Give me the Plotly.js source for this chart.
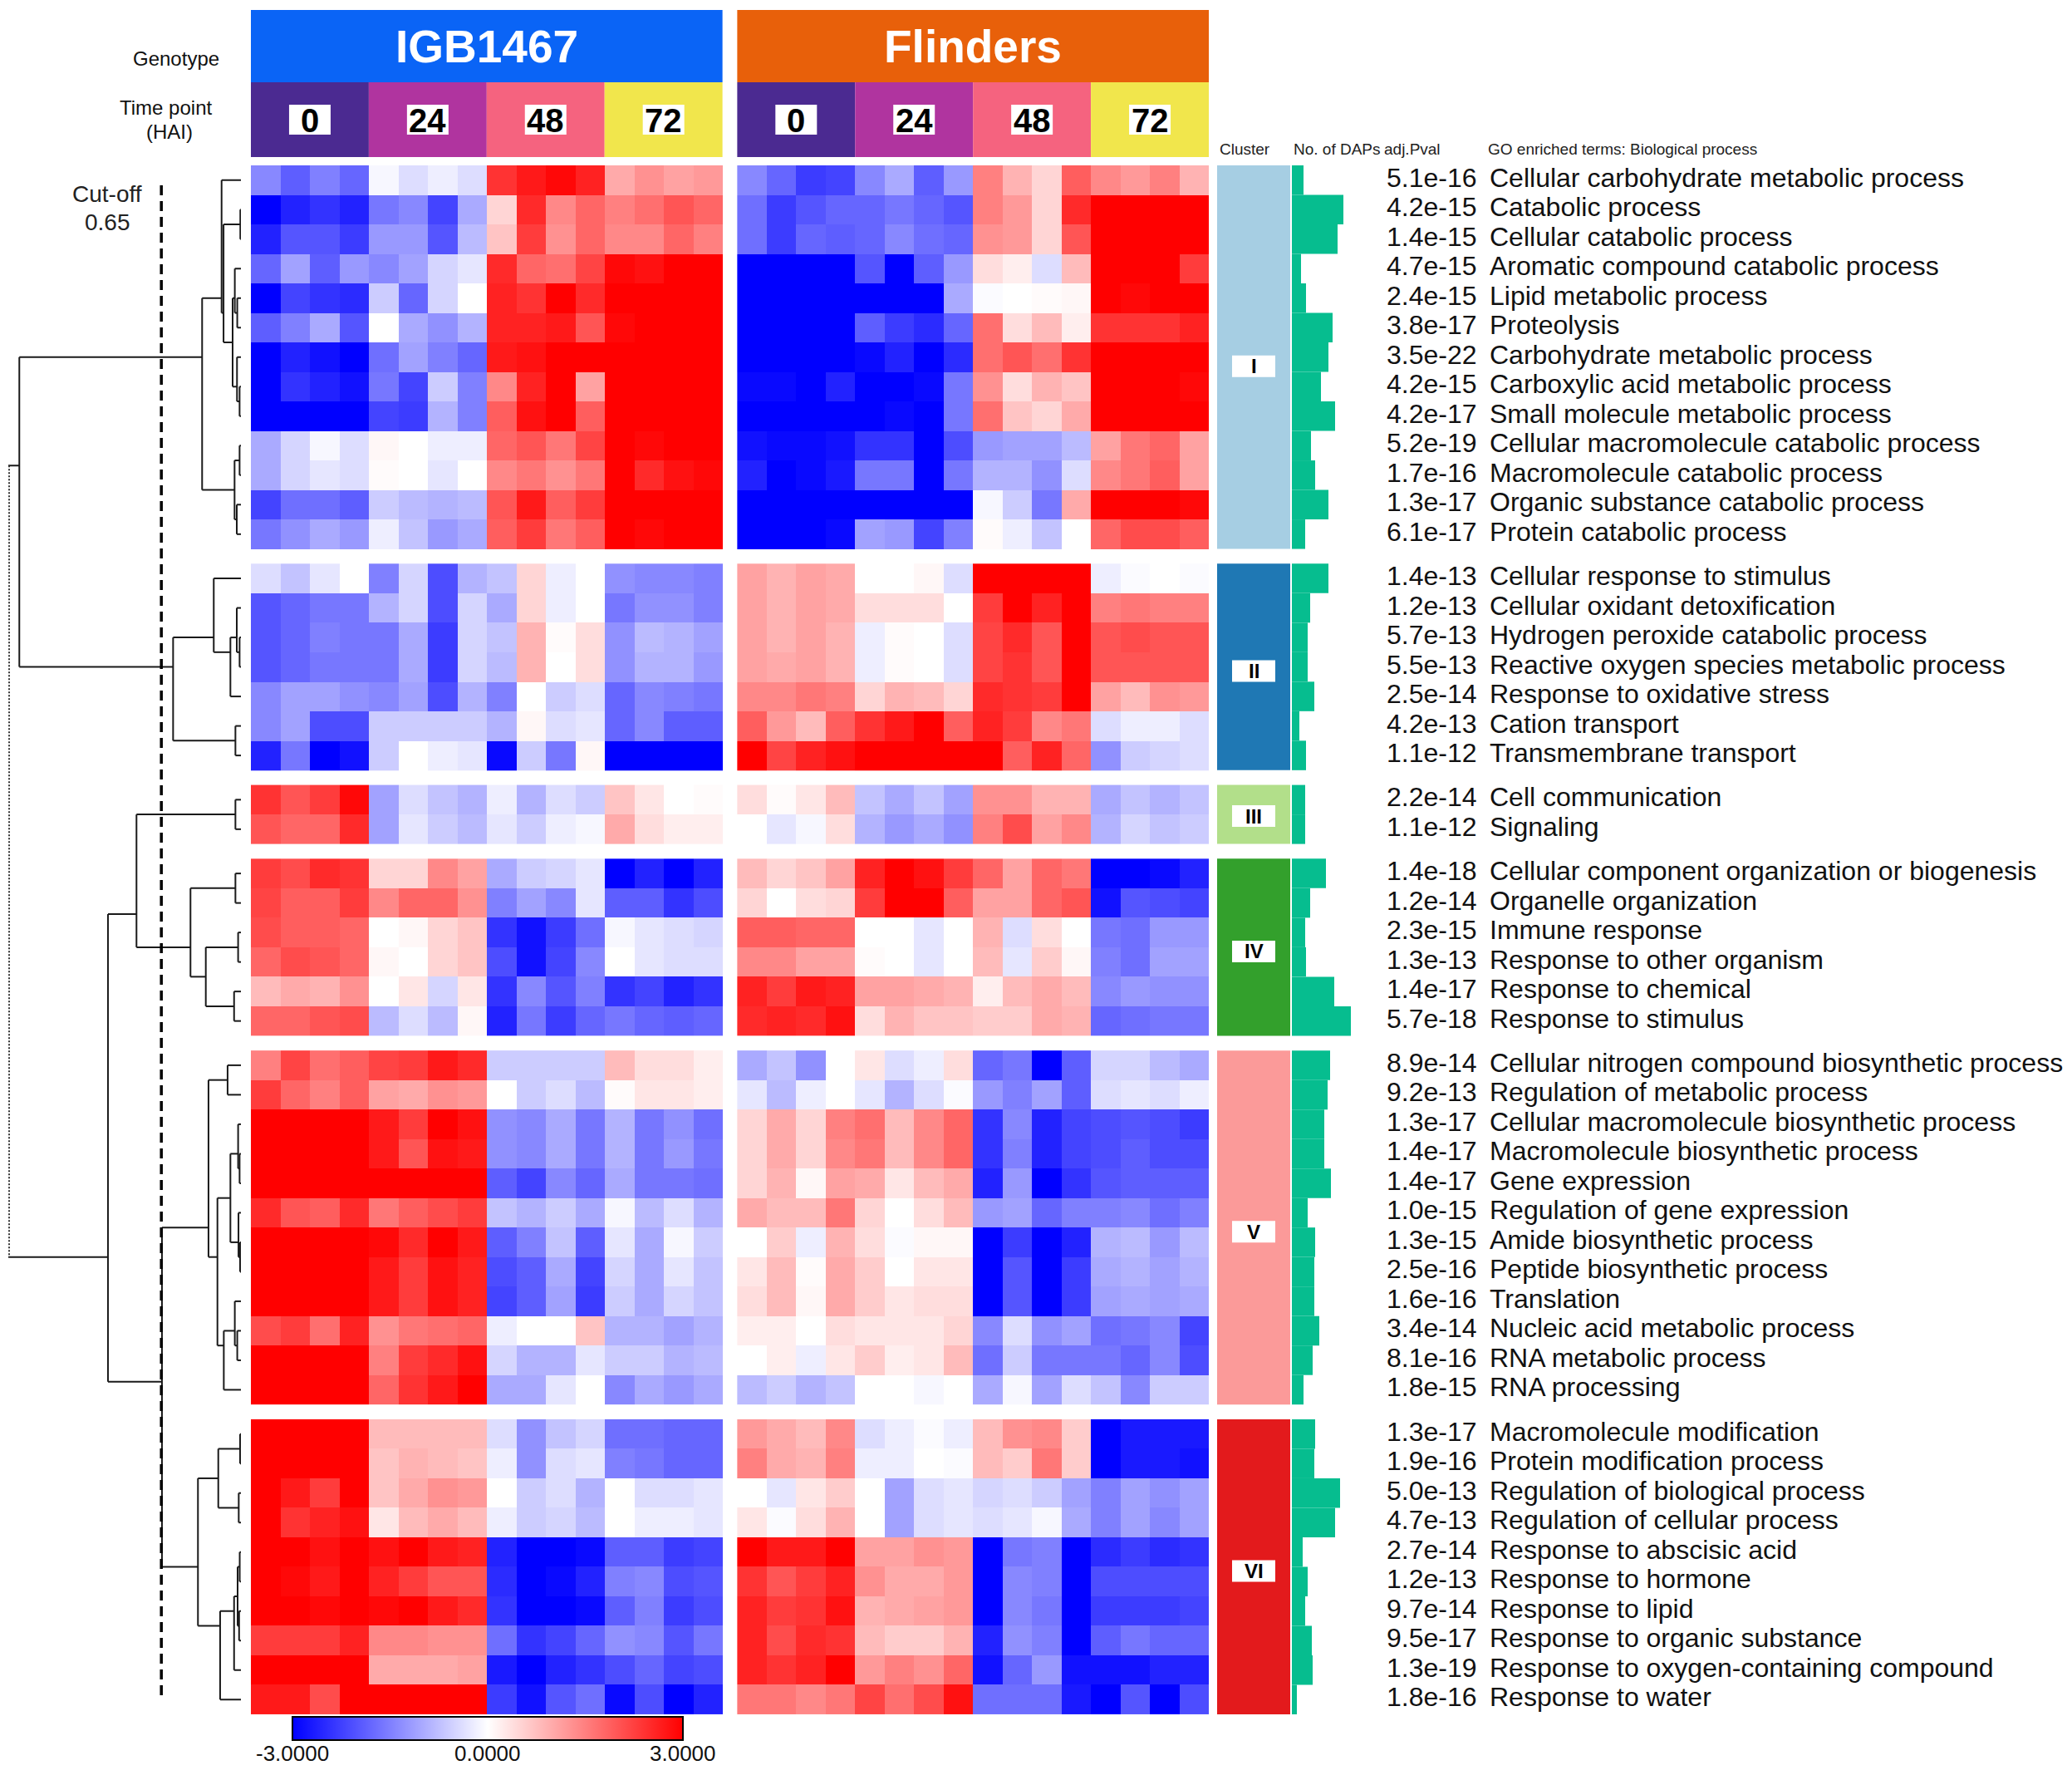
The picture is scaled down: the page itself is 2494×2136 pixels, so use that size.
<!DOCTYPE html>
<html><head><meta charset="utf-8">
<script src="https://cdn.plot.ly/plotly-3.0.1.min.js"></script>
<style>html,body{margin:0;padding:0;background:#fff;}</style>
</head><body>
<div id="chart" style="width:2494px;height:2136px;"></div>
<script>
// ---------------- DATA ----------------
const genotypes = ['IGB1467', 'Flinders'];
const timePoints = ['0', '24', '48', '72'];
const clusterNames = ['I', 'II', 'III', 'IV', 'V', 'VI'];
const clusterSizes = [13, 7, 2, 6, 12, 10];
const pvals = [
 '5.1e-16','4.2e-15','1.4e-15','4.7e-15','2.4e-15','3.8e-17','3.5e-22','4.2e-15','4.2e-17','5.2e-19','1.7e-16','1.3e-17','6.1e-17',
 '1.4e-13','1.2e-13','5.7e-13','5.5e-13','2.5e-14','4.2e-13','1.1e-12',
 '2.2e-14','1.1e-12',
 '1.4e-18','1.2e-14','2.3e-15','1.3e-13','1.4e-17','5.7e-18',
 '8.9e-14','9.2e-13','1.3e-17','1.4e-17','1.4e-17','1.0e-15','1.3e-15','2.5e-16','1.6e-16','3.4e-14','8.1e-16','1.8e-15',
 '1.3e-17','1.9e-16','5.0e-13','4.7e-13','2.7e-14','1.2e-13','9.7e-14','9.5e-17','1.3e-19','1.8e-16'
];
const goTerms = [
 'Cellular carbohydrate metabolic process','Catabolic process','Cellular catabolic process','Aromatic compound catabolic process',
 'Lipid metabolic process','Proteolysis','Carbohydrate metabolic process','Carboxylic acid metabolic process',
 'Small molecule metabolic process','Cellular macromolecule catabolic process','Macromolecule catabolic process',
 'Organic substance catabolic process','Protein catabolic process',
 'Cellular response to stimulus','Cellular oxidant detoxification','Hydrogen peroxide catabolic process',
 'Reactive oxygen species metabolic process','Response to oxidative stress','Cation transport','Transmembrane transport',
 'Cell communication','Signaling',
 'Cellular component organization or biogenesis','Organelle organization','Immune response','Response to other organism',
 'Response to chemical','Response to stimulus',
 'Cellular nitrogen compound biosynthetic process','Regulation of metabolic process','Cellular macromolecule biosynthetic process',
 'Macromolecule biosynthetic process','Gene expression','Regulation of gene expression','Amide biosynthetic process',
 'Peptide biosynthetic process','Translation','Nucleic acid metabolic process','RNA metabolic process','RNA processing',
 'Macromolecule modification','Protein modification process','Regulation of biological process','Regulation of cellular process',
 'Response to abscisic acid','Response to hormone','Response to lipid','Response to organic substance',
 'Response to oxygen-containing compound','Response to water'
];
const daps = [
 14,62,55,11,17,49,44,35,52,23,28,44,16,
 44,22,19,19,27,9,17,
 16,16,
 41,22,16,17,51,71,
 46,43,39,39,47,19,28,27,27,33,25,14,
 28,27,58,52,13,19,16,24,25,6
];
const colorbarTicks = [-3, 0, 3];
const colorbarTickText = ['-3.0000', '0.0000', '3.0000'];

const igbI = [
 [-1.4,-1.9,-1.5,-1.8, -0.1,-0.4,-0.2,-0.4, 2.4,2.7,2.9,2.6, 1.0,1.3,1.1,1.2],
 [-3.0,-2.6,-2.4,-2.6, -1.6,-1.4,-2.2,-1.0, 0.5,2.5,1.4,1.8, 1.5,1.7,2.0,1.8],
 [-2.6,-2.0,-2.0,-2.3, -1.2,-1.2,-2.0,-0.8, 0.7,2.3,1.3,1.8, 1.4,1.4,1.8,1.5],
 [-1.8,-1.1,-1.9,-1.2, -1.4,-1.1,-0.5,-0.3, 2.5,1.8,1.7,2.2, 2.9,2.8,3.0,3.0],
 [-3.0,-2.2,-2.4,-2.5, -0.6,-1.8,-0.5,0.0, 2.6,2.4,3.0,2.5, 3,3,3,3],
 [-1.9,-1.5,-1.0,-2.0, 0.0,-1.0,-1.3,-0.9, 2.6,2.6,2.7,2.0, 2.9,3,3,3],
 [-3.0,-2.6,-2.8,-3.0, -1.7,-1.1,-1.5,-1.8, 2.7,2.8,3,3, 3,3,3,3],
 [-3.0,-2.4,-2.6,-2.8, -1.6,-2.2,-0.6,-1.5, 1.4,2.6,3,1.1, 3,3,3,3],
 [-3,-3,-3,-3, -2.2,-2.3,-0.9,-1.5, 1.9,2.8,3,1.9, 3,3,3,3],
 [-1.0,-0.5,-0.1,-0.4, 0.1,0.0,-0.2,-0.2, 1.8,2.0,1.6,2.2, 3,2.9,3,3],
 [-1.0,-0.5,-0.3,-0.4, 0.05,0.0,-0.3,0.0, 1.4,1.6,1.3,1.6, 3,2.5,2.8,2.9],
 [-2.2,-1.7,-1.7,-1.9, -0.6,-0.8,-0.9,-0.8, 2.0,2.7,1.9,2.3, 3,3,3,3],
 [-1.6,-1.3,-1.0,-1.2, -0.2,-0.7,-1.2,-1.0, 1.9,2.3,1.6,1.9, 3,2.9,3,3]
];
const igbII = [
 [-0.4,-0.7,-0.3,0.0, -1.5,-0.5,-2.1,-0.9, -0.7,0.5,-0.2,0.0, -1.3,-1.4,-1.4,-1.5],
 [-2.0,-1.8,-1.6,-1.6, -0.9,-0.5,-2.1,-0.5, -1.0,0.5,-0.2,0.0, -1.6,-1.3,-1.3,-1.5],
 [-2.0,-1.8,-1.5,-1.6, -1.6,-1.0,-2.3,-0.5, -0.7,0.9,0.05,0.4, -1.3,-0.8,-0.9,-1.1],
 [-2.0,-1.8,-1.6,-1.6, -1.6,-1.0,-2.3,-0.5, -0.8,0.9,0.0,0.4, -1.3,-0.9,-0.9,-1.2],
 [-1.4,-1.1,-1.1,-1.3, -1.4,-1.1,-2.1,-0.9, -1.5,0.0,-0.6,-0.4, -1.8,-1.4,-1.5,-1.6],
 [-1.4,-1.1,-2.1,-2.1, -0.6,-0.6,-0.6,-0.6, -0.9,0.1,-0.4,-0.3, -1.8,-1.4,-1.9,-1.9],
 [-2.6,-1.6,-3.0,-2.8, -0.6,0.0,-0.2,-0.3, -2.9,-0.6,-1.6,0.1, -3,-3,-3,-3]
];
const igbIII = [
 [2.4,2.0,2.3,2.9, -1.1,-0.4,-0.7,-0.9, -0.2,-0.9,-0.4,-0.6, 0.7,0.3,0.0,0.05],
 [2.0,1.8,1.8,2.5, -1.1,-0.3,-0.6,-0.8, -0.3,-0.6,-0.2,-0.1, 1.0,0.4,0.2,0.2]
];
const igbIV = [
 [2.3,2.1,2.5,2.4, 0.5,0.5,1.4,1.1, -1.0,-0.6,-0.5,-0.3, -3,-2.6,-3,-2.6],
 [2.2,1.9,1.9,2.3, 1.4,1.8,1.8,1.3, -1.5,-1.1,-1.4,-0.3, -1.9,-1.9,-2.4,-2.1],
 [2.1,1.9,1.9,1.8, 0.0,0.1,0.5,0.7, -2.4,-2.8,-2.3,-1.7, -0.1,-0.3,-0.4,-0.5],
 [1.8,2.1,2.0,1.8, 0.1,0.0,0.5,0.7, -2.1,-2.8,-2.2,-1.4, 0.0,-0.3,-0.4,-0.4],
 [0.8,1.0,0.9,1.3, 0.0,0.3,-0.5,0.3, -2.4,-1.4,-2.0,-1.5, -2.4,-2.2,-2.6,-2.4],
 [1.8,1.8,2.0,2.1, -0.8,-0.4,-0.8,0.1, -2.6,-1.6,-2.3,-1.8, -1.6,-1.8,-1.9,-1.8]
];
const igbV = [
 [1.5,2.2,1.7,1.9, 2.2,2.3,2.7,2.5, -0.6,-0.6,-0.6,-0.6, 0.8,0.4,0.4,0.2],
 [2.3,1.8,1.5,1.9, 1.1,1.0,1.3,1.2, 0.0,-0.6,-0.4,-0.8, 0.05,0.3,0.3,0.2],
 [3,3,3,3, 2.7,2.3,3,2.8, -1.3,-1.4,-1.0,-1.6, -0.9,-1.6,-1.3,-1.7],
 [3,3,3,3, 2.7,2.0,2.8,2.7, -1.3,-1.4,-1.0,-1.6, -0.9,-1.6,-1.2,-1.6],
 [3,3,3,3, 3,3,3,3, -1.9,-2.2,-1.4,-1.8, -1.0,-1.6,-1.6,-1.7],
 [2.5,2.0,1.9,2.5, 1.6,1.9,2.1,2.3, -0.7,-0.9,-0.6,-1.0, -0.1,-0.8,-0.4,-0.9],
 [3,3,3,3, 2.9,2.5,3,2.7, -1.9,-1.5,-0.7,-1.9, -0.3,-1.0,-0.1,-0.6],
 [3,3,3,3, 2.7,2.3,2.8,2.6, -2.1,-1.9,-1.0,-2.2, -0.5,-1.0,-0.3,-0.7],
 [3,3,3,3, 2.7,2.3,2.8,2.6, -2.2,-1.9,-1.1,-2.3, -0.6,-1.0,-0.5,-0.7],
 [2.1,2.3,1.7,2.6, 1.3,1.6,1.7,1.8, -0.2,0.0,0.0,0.7, -0.9,-0.9,-1.1,-0.9],
 [3,3,3,3, 1.5,2.3,2.5,2.8, -0.5,-0.9,-0.9,-0.3, -0.6,-0.6,-0.9,-0.8],
 [3,3,3,3, 1.8,2.4,2.7,3, -1.0,-1.0,-0.3,0.0, -1.4,-1.0,-1.2,-1.0]
];
const igbVI = [
 [3,3,3,3, 0.8,0.8,0.8,0.8, -0.4,-1.3,-0.7,-0.5, -1.7,-1.7,-1.8,-1.8],
 [3,3,3,3, 0.7,0.9,0.8,0.7, -0.2,-1.3,-0.4,-0.3, -1.5,-1.6,-1.8,-1.8],
 [3,2.7,2.3,3, 0.7,1.0,1.3,1.2, 0.0,-0.6,-0.4,-0.9, 0.0,-0.4,-0.4,-0.3],
 [3,2.4,2.6,2.8, 0.3,0.8,1.0,0.8, -0.2,-0.6,-0.5,-0.8, 0.0,-0.2,-0.2,-0.3],
 [3,3,2.8,3, 2.8,3,2.7,2.6, -2.6,-3,-3,-2.9, -1.9,-1.9,-2.3,-2.2],
 [3,2.9,2.7,3, 2.6,2.3,2.0,2.0, -2.5,-3,-2.9,-2.6, -1.5,-1.4,-2.1,-2.0],
 [3,3,2.9,3, 2.9,3,2.7,2.5, -2.4,-3,-3,-2.9, -1.9,-1.5,-2.3,-2.1],
 [2.3,2.3,2.3,2.6, 1.4,1.4,1.3,1.3, -1.7,-2.4,-2.2,-1.8, -1.3,-1.4,-2.0,-1.6],
 [3,3,3,3, 1.0,1.0,1.0,1.1, -2.7,-3,-2.6,-2.4, -2.1,-1.8,-2.2,-2.1],
 [2.7,2.7,2.1,3, 3,3,3,3, -2.3,-2.8,-2.0,-1.7, -2.9,-2.1,-3,-2.6]
];
const flinI = [
 [-1.4,-1.8,-2.3,-2.2, -1.4,-1.0,-1.9,-1.2, 1.5,0.9,0.5,1.9, 1.4,1.2,1.5,0.9],
 [-1.7,-2.3,-2.0,-1.8, -1.8,-1.6,-1.8,-2.0, 1.5,1.2,0.5,2.5, 3,3,3,3],
 [-1.7,-2.3,-1.8,-1.9, -1.8,-1.4,-1.7,-1.8, 1.3,1.2,0.5,2.0, 3,3,3,3],
 [-3,-3,-3,-3, -2.0,-3,-1.9,-1.2, 0.4,0.2,-0.4,0.8, 3,3,3,2.3],
 [-3,-3,-3,-3, -3,-3,-3,-1.0, -0.05,0.0,0.05,0.1, 3,2.9,3,3],
 [-3,-3,-3,-3, -1.9,-2.3,-2.5,-1.8, 1.7,0.4,0.8,0.2, 2.4,2.4,2.4,2.6],
 [-3,-3,-3,-3, -2.9,-2.6,-3,-2.5, 1.7,2.0,1.7,2.4, 3,3,3,3],
 [-2.9,-2.9,-3,-2.6, -3,-3,-2.9,-1.6, 1.3,0.4,0.9,0.7, 3,3,3,2.9],
 [-3,-3,-3,-3, -3,-2.9,-3,-1.6, 1.7,0.7,0.5,1.0, 3,3,3,3],
 [-2.8,-2.9,-2.9,-2.8, -2.4,-2.4,-3,-2.1, -1.2,-1.1,-1.1,-0.8, 1.1,1.6,1.8,1.1],
 [-2.6,-3,-2.9,-2.7, -1.6,-1.6,-3,-1.6, -0.9,-0.9,-1.3,-0.4, 1.4,1.6,1.9,1.1],
 [-3,-3,-3,-3, -3,-3,-3,-3, -0.1,-0.6,-1.6,1.0, 3,3,3,2.9],
 [-3,-3,-3,-2.9, -1.1,-1.2,-2.2,-1.5, 0.05,-0.2,-0.7,0.0, 1.8,2.1,2.1,1.9]
];
const flinII = [
 [1.1,0.9,1.1,1.0, 0.0,0.0,0.1,-0.4, 3,3,3,3, -0.2,-0.05,0.0,-0.05],
 [1.1,0.9,1.1,1.0, 0.4,0.4,0.4,0.0, 2.3,3,2.6,3, 1.5,1.6,1.5,1.5],
 [1.1,0.9,1.1,0.9, -0.2,0.05,0.0,-0.4, 2.2,2.5,2.0,3, 2.0,2.1,2.0,2.0],
 [1.1,1.0,1.1,0.9, -0.2,0.05,0.0,-0.4, 2.2,2.4,2.0,3, 2.0,2.0,2.0,2.0],
 [1.4,1.4,1.6,1.5, 0.5,0.9,0.8,0.5, 2.5,2.4,2.3,3, 1.1,0.8,1.3,1.2],
 [1.9,1.2,0.8,1.9, 2.4,2.7,3,1.9, 2.6,2.3,1.4,1.6, -0.4,-0.2,-0.2,-0.4],
 [3,2.2,2.6,2.8, 3,3,3,3, 3,1.9,2.6,1.8, -1.3,-0.6,-0.5,-0.4]
];
const flinIII = [
 [0.4,0.05,0.3,0.8, -0.7,-1.0,-0.7,-1.1, 1.3,1.3,0.9,0.9, -1.0,-0.7,-0.9,-0.7],
 [0.0,-0.3,-0.1,0.4, -0.9,-1.2,-1.0,-1.3, 1.5,2.1,1.1,1.4, -0.9,-0.5,-0.7,-0.6]
];
const flinIV = [
 [0.8,0.5,0.7,1.1, 2.6,3,2.8,2.3, 1.8,1.1,1.8,1.6, -3,-3,-2.9,-2.6],
 [0.5,0.0,0.4,0.5, 2.3,3,3,1.9, 1.1,1.1,1.8,2.0, -2.8,-2.0,-2.1,-2.2],
 [1.9,1.9,1.8,1.8, 0.0,0.0,-0.3,0.0, 0.9,-0.4,0.4,0.0, -1.6,-1.7,-1.2,-1.2],
 [1.4,1.4,1.1,1.1, 0.05,0.0,-0.3,0.0, 0.8,-0.3,0.6,0.1, -1.5,-1.7,-1.1,-1.1],
 [2.6,2.3,2.7,2.6, 1.1,1.1,1.0,0.9, 0.2,0.8,1.0,0.8, -1.4,-1.2,-1.3,-1.3],
 [2.5,2.6,2.5,2.8, 0.4,0.9,0.7,0.7, 0.6,0.6,1.0,0.9, -1.8,-1.7,-1.6,-1.6]
];
const flinV = [
 [-1.0,-0.7,-1.3,0.0, 0.3,-0.4,-0.2,0.4, -1.8,-1.6,-3,-1.9, -0.5,-0.5,-0.8,-1.0],
 [-0.3,-0.8,-0.2,0.0, -0.3,-0.9,-0.4,-0.05, -1.2,-1.5,-1.1,-1.9, -0.4,-0.3,-0.4,-0.2],
 [0.5,1.0,0.5,1.5, 1.7,0.8,1.4,1.8, -2.4,-1.4,-2.6,-2.2, -2.1,-2.0,-2.1,-2.3],
 [0.5,1.0,0.5,1.4, 1.6,0.8,1.4,1.8, -2.4,-1.5,-2.6,-2.2, -2.1,-1.9,-2.1,-2.1],
 [0.5,0.9,0.1,1.1, 1.0,0.3,0.8,1.0, -2.6,-1.2,-3,-2.4, -2.0,-1.9,-1.9,-1.9],
 [1.0,0.8,0.8,1.6, 0.5,0.0,0.4,0.8, -1.2,-1.1,-1.8,-1.5, -1.5,-1.4,-1.7,-1.5],
 [0.0,0.6,-0.2,0.9, 0.4,-0.05,0.1,0.1, -3,-2.3,-3,-2.6, -0.9,-0.8,-1.2,-0.8],
 [0.3,0.8,0.05,1.0, 0.6,0.0,0.3,0.3, -3,-2.0,-3,-2.3, -1.0,-0.9,-1.1,-0.9],
 [0.4,0.8,0.1,1.0, 0.6,0.3,0.4,0.4, -3,-2.0,-3,-2.3, -1.1,-1.0,-1.1,-1.0],
 [0.2,0.2,0.0,0.4, 0.3,0.3,0.3,0.5, -1.4,-0.4,-1.3,-1.1, -1.7,-1.6,-1.4,-2.2],
 [0.0,0.2,-0.2,0.3, 0.6,0.2,0.3,0.8, -1.7,-0.6,-1.6,-1.6, -1.6,-1.8,-1.4,-2.1],
 [-0.8,-0.6,-0.9,-0.7, 0.0,0.0,-0.1,0.0, -1.0,-0.1,-1.1,-0.4, -0.7,-1.4,-0.6,-0.6]
];
const flinVI = [
 [1.2,1.0,0.8,1.4, -0.4,-0.2,-0.05,-0.2, 0.8,1.3,1.4,0.6, -3,-2.7,-2.7,-2.7],
 [1.5,1.0,0.9,1.5, -0.2,-0.2,0.0,-0.05, 0.8,0.6,1.6,0.6, -3,-2.7,-2.7,-2.8],
 [0.0,-0.3,0.3,0.6, 0.0,-1.1,-0.4,-0.3, -0.5,-0.4,-0.6,-1.1, -1.5,-1.1,-1.3,-1.1],
 [0.3,-0.05,0.4,0.9, 0.0,-1.1,-0.4,-0.3, -0.4,-0.3,-0.1,-1.0, -1.5,-1.1,-1.4,-1.1],
 [3,2.7,2.7,3, 1.1,1.1,1.3,1.2, -3,-1.6,-1.5,-3, -2.5,-2.3,-2.5,-2.4],
 [2.4,2.0,2.3,2.6, 1.3,1.0,1.0,1.2, -3,-1.4,-1.5,-3, -2.1,-2.1,-2.1,-2.1],
 [2.6,2.3,2.4,2.8, 0.9,1.0,1.1,1.2, -3,-1.4,-1.6,-3, -2.3,-2.3,-2.3,-2.2],
 [2.6,2.1,2.5,2.4, 0.8,0.6,0.6,0.9, -2.6,-1.3,-1.5,-3, -1.9,-1.6,-1.8,-1.8],
 [2.6,2.4,2.6,3, 1.2,1.5,1.3,1.8, -2.8,-1.8,-1.2,-2.8, -2.8,-2.8,-2.6,-2.6],
 [1.6,1.6,1.4,1.6, 2.2,1.7,2.1,2.8, -1.7,-1.7,-1.7,-2.7, -3,-2.0,-3,-2.1]
];

// Dendrogram (node = [height, left, right]; leaves = global row index)
const treeI = [0.317,
  [0.158, 0, [0.142, [0.005, 1, 2], [0.068, [0.05, 3, [0.03, 4, 5]], [0.032, 6, [0.011, 7, 8]]]]],
  [0.052, [0.011, 9, 10], [0.034, 11, 12]]];
const treeII = [0.554, [0.222, 13, [0.086, [0.034, 14, [0.011, 15, 16]], 17]], [0.045, 18, 19]];
const treeIII = [0.045, 20, 21];
const treeIV = [0.412, [0.045, 22, 23], [0.287, [0.023, 24, 25], [0.056, 26, 27]]];
const treeV = [0.265, [0.109, 28, 29],
  [0.192, [0.086, [0.023, 30, [0.011, 31, 32]], [0.02, 33, [0.007, 34, 35]]],
          [0.14, [0.05, 36, [0.03, 37, 38]], 39]]];
const treeVI = [0.351, [0.185, [0.007, 40, 41], [0.018, 42, 43]],
  [0.17, [0.056, [0.027, [0.01, 44, 45], [0.015, 46, 47]], 48], 49]];
const dendroTree = [1.9, [1.81, treeI, treeII], [1.086, [0.853, treeIII, treeIV], [0.645, treeV, treeVI]]];
const cutOff = 0.65;

// ---------------- STYLE / GEOMETRY ----------------
const W = 2494, H = 2136;
const FONT = 'Liberation Sans, Arial, Helvetica, sans-serif';
const px = v => v / W;
const py = v => 1 - v / H;
const genoColors = ['#0a64f6', '#e8600a'];
const timeColors = ['#4b2a91', '#b0349f', '#f5637f', '#f1e64c'];
const clusterColors = ['#a6cee3', '#1f78b4', '#b2df8a', '#33a02c', '#fb9a99', '#e31a1c'];
const colorscale = [[0, 'rgb(0,0,255)'], [0.5, 'rgb(255,255,255)'], [1, 'rgb(255,0,0)']];

// row positions with half-row gaps between clusters
const rowPos = [], clusterOf = [];
clusterSizes.forEach((n, c) => { for (let i = 0; i < n; i++) { const r = rowPos.length; rowPos.push(r + 0.5 * c); clusterOf.push(c); } });
const clusterRows = clusterNames.map((_, c) => rowPos.filter((_, r) => clusterOf[r] === c));
const clusterCenter = clusterRows.map(ps => ps.reduce((a, b) => a + b, 0) / ps.length);

const igbData = [igbI, igbII, igbIII, igbIV, igbV, igbVI];
const flinData = [flinI, flinII, flinIII, flinIV, flinV, flinVI];
const colsIGB = Array.from({length: 16}, (_, i) => i);
const colsFlin = colsIGB.map(i => i + 16.5);

const traces = [];
clusterNames.forEach((nm, c) => {
  [[igbData[c], colsIGB], [flinData[c], colsFlin]].forEach(([z, xs], g) => {
    const tr = {type: 'heatmap', z: z, x: xs, y: clusterRows[c], zmin: -3, zmax: 3,
      colorscale: colorscale, showscale: (c === 0 && g === 0), hoverinfo: 'skip', xaxis: 'x', yaxis: 'y'};
    if (tr.showscale) {
      tr.colorbar = {orientation: 'h', x: px(587), xanchor: 'center', y: py(2066), yanchor: 'top',
        len: 470, lenmode: 'pixels', thickness: 28, thicknessmode: 'pixels',
        outlinewidth: 2, outlinecolor: '#000', tickvals: colorbarTicks, ticktext: colorbarTickText,
        ticks: '', showticklabels: false, xpad: 0, ypad: 0};
    }
    traces.push(tr);
  });
});

// dendrogram
const dx = [], dy = [], rx = [], ry = [];
function walk(node, isRoot) {
  if (typeof node === 'number') return {y: rowPos[node], h: 0, s: rowPos[node], n: 1};
  const [h, a, b] = node;
  const A = walk(a, false), B = walk(b, false);
  dx.push(A.h, h, null, B.h, h, null); dy.push(A.y, A.y, null, B.y, B.y, null);
  if (isRoot) { rx.push(h, h); ry.push(A.y, B.y); }
  else { dx.push(h, h, null); dy.push(A.y, B.y, null); }
  const s = A.s + B.s, n = A.n + B.n;
  return {y: s / n, h: h, s: s, n: n};
}
walk(dendroTree, true);
traces.push({type: 'scatter', mode: 'lines', x: dx, y: dy, xaxis: 'x2', yaxis: 'y',
  line: {color: '#1a1a1a', width: 2}, hoverinfo: 'skip', connectgaps: false});
traces.push({type: 'scatter', mode: 'lines', x: rx, y: ry, xaxis: 'x2', yaxis: 'y',
  line: {color: '#333', width: 4, dash: '2px,2px'}, hoverinfo: 'skip'});

// cluster bar
traces.push({type: 'bar', orientation: 'h', x: clusterNames.map(() => 1), y: clusterCenter, width: clusterSizes,
  base: 0, xaxis: 'x4', yaxis: 'y', marker: {color: clusterColors, line: {width: 0}}, hoverinfo: 'skip'});
// DAPs bars
traces.push({type: 'bar', orientation: 'h', x: daps, y: rowPos, width: 1, base: 0, xaxis: 'x3', yaxis: 'y',
  marker: {color: '#06bd8f', line: {width: 0}}, hoverinfo: 'skip'});

// ---------------- SHAPES & ANNOTATIONS ----------------
const shapes = [], annotations = [];
const unit = (1455 - 302) / 32.5;
genotypes.forEach((gname, g) => {
  const base = g * 16.5;
  shapes.push({type: 'rect', xref: 'x', yref: 'paper', x0: base - 0.5, x1: base + 15.5, y0: py(99), y1: py(12),
    fillcolor: genoColors[g], line: {width: 0}, layer: 'above'});
  annotations.push({xref: 'x', yref: 'paper', x: base + 7.5, y: py(56), text: '<b>' + gname + '</b>', showarrow: false,
    xanchor: 'center', yanchor: 'middle', font: {family: FONT, size: 55, color: '#fff'}});
  timePoints.forEach((t, k) => {
    const x0 = base + 4 * k - 0.5;
    shapes.push({type: 'rect', xref: 'x', yref: 'paper', x0: x0, x1: x0 + 4, y0: py(189), y1: py(99),
      fillcolor: timeColors[k], line: {width: 0}, layer: 'above'});
    const xc = x0 + 2;
    const hw = 25 / unit;
    shapes.push({type: 'rect', xref: 'x', yref: 'paper', x0: xc - hw, x1: xc + hw, y0: py(162), y1: py(126),
      fillcolor: '#fff', line: {width: 0}, layer: 'above'});
    annotations.push({xref: 'x', yref: 'paper', x: xc, y: py(145), text: '<b>' + t + '</b>', showarrow: false,
      xanchor: 'center', yanchor: 'middle', font: {family: FONT, size: 40, color: '#000'}});
  });
});

// left labels
[['Genotype', 212, 70], ['Time point', 199, 130], ['(HAI)', 204, 158]].forEach(([t, x, y]) => {
  annotations.push({xref: 'paper', yref: 'paper', x: px(x), y: py(y), text: t, showarrow: false,
    xanchor: 'center', yanchor: 'middle', font: {family: FONT, size: 24, color: '#111'}});
});
[['Cut-off', 129, 234], ['0.65', 129, 267]].forEach(([t, x, y]) => {
  annotations.push({xref: 'paper', yref: 'paper', x: px(x), y: py(y), text: t, showarrow: false,
    xanchor: 'center', yanchor: 'middle', font: {family: FONT, size: 28, color: '#222'}});
});
// cut-off line
shapes.push({type: 'line', xref: 'x2', yref: 'paper', x0: cutOff, x1: cutOff, y0: py(223), y1: py(2044),
  line: {color: '#000', width: 3.5, dash: '12px,7px'}});

// colorbar tick labels (placed under the colorbar ends / centre)
const cbLeft = 352, cbRight = 822;
colorbarTicks.forEach((v, i) => {
  const xpx = cbLeft + (v + 3) / 6 * (cbRight - cbLeft);
  annotations.push({xref: 'paper', yref: 'paper', x: px(xpx), y: py(2110), text: colorbarTickText[i], showarrow: false,
    xanchor: 'center', yanchor: 'middle', font: {family: FONT, size: 26, color: '#111'}});
});

// column headers
[['Cluster', 1466], ['No. of DAPs', 1555], ['adj.Pval', 1664], ['GO enriched terms: Biological process', 1789]].forEach(([t, x]) => {
  annotations.push({xref: 'paper', yref: 'paper', x: px(x), y: py(180), text: t, showarrow: false,
    xanchor: 'left', yanchor: 'middle', font: {family: FONT, size: 19, color: '#222'}});
});

// cluster labels
const labelShift = [-11, -5, -2, -5, -5, -5];
clusterNames.forEach((nm, c) => {
  shapes.push({type: 'rect', xref: 'paper', yref: 'y', x0: px(1483), x1: px(1535), ysizemode: 'pixel',
    yanchor: clusterCenter[c], y0: -13 + labelShift[c], y1: 13 + labelShift[c], fillcolor: '#fff', line: {width: 0}, layer: 'above'});
  annotations.push({xref: 'paper', yref: 'y', x: px(1509), y: clusterCenter[c], yshift: labelShift[c], text: '<b>' + nm + '</b>',
    showarrow: false, xanchor: 'center', yanchor: 'middle', font: {family: FONT, size: 24, color: '#000'}});
});

// p-values and GO terms
rowPos.forEach((p, r) => {
  annotations.push({xref: 'paper', yref: 'y', x: px(1667), y: p, yshift: 3, text: pvals[r], showarrow: false,
    xanchor: 'left', yanchor: 'middle', font: {family: FONT, size: 32, color: '#111'}});
  annotations.push({xref: 'paper', yref: 'y', x: px(1791), y: p, yshift: 3, text: goTerms[r], showarrow: false,
    xanchor: 'left', yanchor: 'middle', font: {family: FONT, size: 32, color: '#111'}});
});

const hidden = {visible: false, showgrid: false, zeroline: false, fixedrange: true};
const layout = {
  width: W, height: H, margin: {l: 0, r: 0, t: 0, b: 0}, paper_bgcolor: '#fff', plot_bgcolor: 'rgba(0,0,0,0)',
  showlegend: false, font: {family: FONT},
  xaxis: Object.assign({domain: [px(302), px(1455)], range: [-0.5, 32], anchor: 'y'}, hidden),
  yaxis: Object.assign({domain: [py(2063), py(199)], range: [52, -0.5], anchor: 'x'}, hidden),
  xaxis2: Object.assign({domain: [px(10), px(290)], range: [1.9, 0], anchor: 'y'}, hidden),
  xaxis3: Object.assign({domain: [px(1555), px(1655)], range: [0, 100], anchor: 'y'}, hidden),
  xaxis4: Object.assign({domain: [px(1465), px(1553)], range: [0, 1], anchor: 'y'}, hidden),
  shapes: shapes, annotations: annotations
};
Plotly.newPlot('chart', traces, layout, {displayModeBar: false, staticPlot: true});
</script>
</body></html>
